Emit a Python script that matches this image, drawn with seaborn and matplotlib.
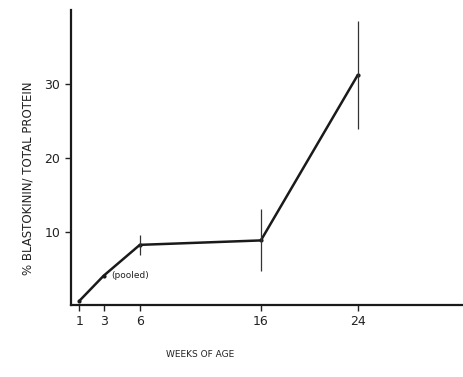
import pandas as pd
import matplotlib
matplotlib.use('Agg')
import matplotlib.pyplot as plt
import seaborn as sns

# values
weeks = [1, 3, 6, 16, 24]
pct = [0.6, 4.0, 8.2, 8.8, 31.2]
err = [0.0, 0.0, 1.4, 4.2, 7.3]
x_ticks = [1, 3, 6, 16, 24]
y_ticks = [10, 20, 30]

df = pd.DataFrame({'week': weeks, 'pct': pct, 'err': err})

sns.set_style('ticks')
plt.rcParams['font.family'] = ['DejaVu Sans']

fig = plt.figure(figsize=(4.63, 3.77), dpi=100)
ax = fig.add_axes([0.153, 0.19, 0.847, 0.783])

sns.lineplot(data=df, x='week', y='pct', ax=ax, color='#1a1a1a', linewidth=1.8,
             marker='o', markersize=3, markeredgewidth=0)
bars = df[df['err'] > 0]
ax.errorbar(bars['week'], bars['pct'], yerr=bars['err'], fmt='none',
            ecolor='#333333', elinewidth=0.9, capsize=0)

ax.text(3.6, 4.0, '(pooled)', fontsize=6.5, va='center', color='#222222')

ax.set_xlim(0.3, 32.7)
ax.set_ylim(0, 40)
ax.set_xticks(x_ticks)
ax.set_yticks(y_ticks)
ax.tick_params(axis='both', direction='out', length=4, width=1, labelsize=9, colors='#222222')
ax.tick_params(axis='x', pad=3)
for s in ['left', 'bottom']:
    ax.spines[s].set_linewidth(1.6)
    ax.spines[s].set_color('#1a1a1a')
sns.despine(ax=ax)

ax.set_xlabel('WEEKS OF AGE', fontsize=6.5, color='#222222')
ax.set_ylabel('% BLASTOKININ/ TOTAL PROTEIN', fontsize=8.5, color='#222222')
ax.xaxis.set_label_coords(0.33, -0.15)
ax.yaxis.set_label_coords(-0.092, 0.43)

fig.savefig('out.png', dpi=100)
